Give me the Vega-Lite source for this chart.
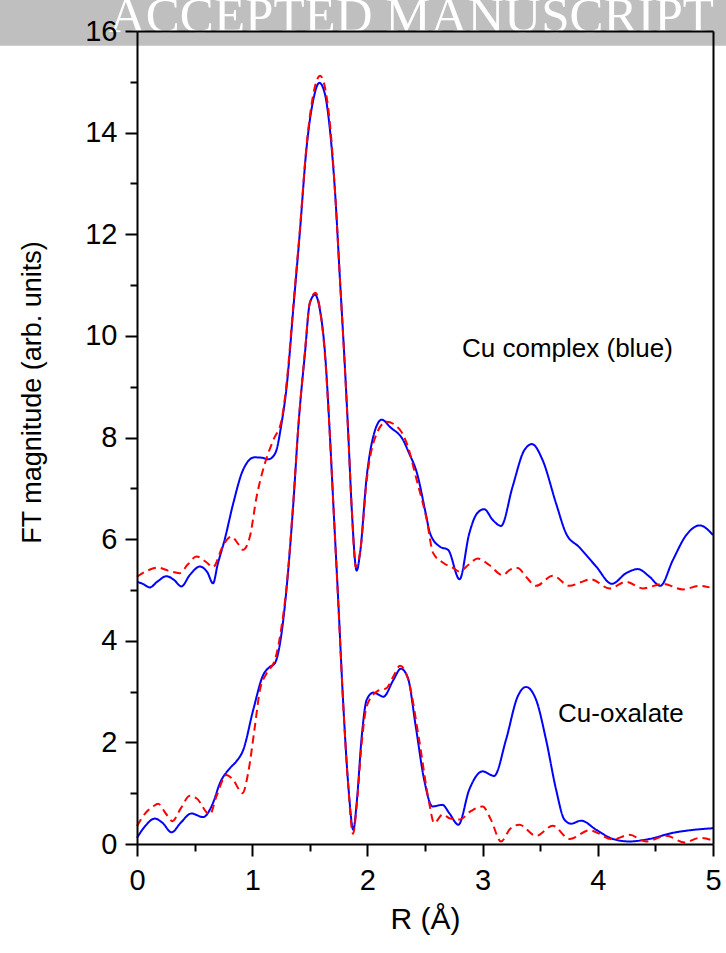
{
  "$schema": "https://vega.github.io/schema/vega-lite/v6.json",
  "width": 576,
  "height": 813,
  "autosize": {"type": "none"},
  "padding": {"left": 137, "top": 31, "right": 13, "bottom": 109},
  "background": "white",
  "config": {"view": {"stroke": null}, "font": "Liberation Sans"},
  "datasets": {
    "curves": [
{"s":"complex","k":"exp","R":0,"v":5.16},{"s":"complex","k":"exp","R":0.05,"v":5.12},{"s":"complex","k":"exp","R":0.11,"v":5.05},{"s":"complex","k":"exp","R":0.18,"v":5.17},{"s":"complex","k":"exp","R":0.255,"v":5.27},{"s":"complex","k":"exp","R":0.32,"v":5.2},{"s":"complex","k":"exp","R":0.385,"v":5.07},{"s":"complex","k":"exp","R":0.46,"v":5.3},{"s":"complex","k":"exp","R":0.545,"v":5.46},{"s":"complex","k":"exp","R":0.61,"v":5.35},{"s":"complex","k":"exp","R":0.66,"v":5.13},{"s":"complex","k":"exp","R":0.7,"v":5.5},{"s":"complex","k":"exp","R":0.76,"v":5.98},{"s":"complex","k":"exp","R":0.835,"v":6.7},{"s":"complex","k":"exp","R":0.92,"v":7.36},{"s":"complex","k":"exp","R":1.02,"v":7.61},{"s":"complex","k":"exp","R":1.09,"v":7.6},{"s":"complex","k":"exp","R":1.14,"v":7.57},{"s":"complex","k":"exp","R":1.2,"v":7.69},{"s":"complex","k":"exp","R":1.255,"v":8.28},{"s":"complex","k":"exp","R":1.3,"v":9.02},{"s":"complex","k":"exp","R":1.357,"v":10.54},{"s":"complex","k":"exp","R":1.414,"v":12.05},{"s":"complex","k":"exp","R":1.47,"v":13.66},{"s":"complex","k":"exp","R":1.53,"v":14.64},{"s":"complex","k":"exp","R":1.583,"v":14.98},{"s":"complex","k":"exp","R":1.63,"v":14.77},{"s":"complex","k":"exp","R":1.675,"v":14.05},{"s":"complex","k":"exp","R":1.72,"v":12.8},{"s":"complex","k":"exp","R":1.762,"v":11.1},{"s":"complex","k":"exp","R":1.806,"v":9.33},{"s":"complex","k":"exp","R":1.835,"v":8.02},{"s":"complex","k":"exp","R":1.864,"v":6.6},{"s":"complex","k":"exp","R":1.907,"v":5.38},{"s":"complex","k":"exp","R":1.936,"v":5.72},{"s":"complex","k":"exp","R":1.994,"v":7.23},{"s":"complex","k":"exp","R":2.05,"v":8.01},{"s":"complex","k":"exp","R":2.124,"v":8.35},{"s":"complex","k":"exp","R":2.2,"v":8.2},{"s":"complex","k":"exp","R":2.31,"v":7.95},{"s":"complex","k":"exp","R":2.36,"v":7.7},{"s":"complex","k":"exp","R":2.43,"v":7.3},{"s":"complex","k":"exp","R":2.507,"v":6.5},{"s":"complex","k":"exp","R":2.543,"v":6.12},{"s":"complex","k":"exp","R":2.63,"v":5.85},{"s":"complex","k":"exp","R":2.7,"v":5.79},{"s":"complex","k":"exp","R":2.8,"v":5.21},{"s":"complex","k":"exp","R":2.884,"v":6.11},{"s":"complex","k":"exp","R":2.95,"v":6.5},{"s":"complex","k":"exp","R":3.014,"v":6.59},{"s":"complex","k":"exp","R":3.087,"v":6.38},{"s":"complex","k":"exp","R":3.16,"v":6.26},{"s":"complex","k":"exp","R":3.26,"v":7.03},{"s":"complex","k":"exp","R":3.362,"v":7.75},{"s":"complex","k":"exp","R":3.429,"v":7.87},{"s":"complex","k":"exp","R":3.52,"v":7.56},{"s":"complex","k":"exp","R":3.638,"v":6.7},{"s":"complex","k":"exp","R":3.725,"v":6.11},{"s":"complex","k":"exp","R":3.84,"v":5.84},{"s":"complex","k":"exp","R":3.986,"v":5.46},{"s":"complex","k":"exp","R":4.122,"v":5.12},{"s":"complex","k":"exp","R":4.246,"v":5.33},{"s":"complex","k":"exp","R":4.348,"v":5.41},{"s":"complex","k":"exp","R":4.449,"v":5.26},{"s":"complex","k":"exp","R":4.542,"v":5.08},{"s":"complex","k":"exp","R":4.652,"v":5.59},{"s":"complex","k":"exp","R":4.768,"v":6.08},{"s":"complex","k":"exp","R":4.884,"v":6.27},{"s":"complex","k":"exp","R":5.0,"v":6.08},
{"s":"oxalate","k":"exp","R":0,"v":0.12},{"s":"oxalate","k":"exp","R":0.07,"v":0.35},{"s":"oxalate","k":"exp","R":0.154,"v":0.5},{"s":"oxalate","k":"exp","R":0.22,"v":0.42},{"s":"oxalate","k":"exp","R":0.3,"v":0.23},{"s":"oxalate","k":"exp","R":0.38,"v":0.42},{"s":"oxalate","k":"exp","R":0.472,"v":0.6},{"s":"oxalate","k":"exp","R":0.574,"v":0.53},{"s":"oxalate","k":"exp","R":0.66,"v":0.81},{"s":"oxalate","k":"exp","R":0.72,"v":1.2},{"s":"oxalate","k":"exp","R":0.806,"v":1.49},{"s":"oxalate","k":"exp","R":0.864,"v":1.63},{"s":"oxalate","k":"exp","R":0.922,"v":1.85},{"s":"oxalate","k":"exp","R":1.009,"v":2.64},{"s":"oxalate","k":"exp","R":1.096,"v":3.33},{"s":"oxalate","k":"exp","R":1.15,"v":3.48},{"s":"oxalate","k":"exp","R":1.197,"v":3.56},{"s":"oxalate","k":"exp","R":1.255,"v":4.15},{"s":"oxalate","k":"exp","R":1.3,"v":5.07},{"s":"oxalate","k":"exp","R":1.357,"v":6.7},{"s":"oxalate","k":"exp","R":1.4,"v":8.2},{"s":"oxalate","k":"exp","R":1.458,"v":9.66},{"s":"oxalate","k":"exp","R":1.5,"v":10.64},{"s":"oxalate","k":"exp","R":1.545,"v":10.81},{"s":"oxalate","k":"exp","R":1.588,"v":10.51},{"s":"oxalate","k":"exp","R":1.632,"v":9.66},{"s":"oxalate","k":"exp","R":1.675,"v":8.02},{"s":"oxalate","k":"exp","R":1.704,"v":6.7},{"s":"oxalate","k":"exp","R":1.748,"v":4.74},{"s":"oxalate","k":"exp","R":1.79,"v":2.77},{"s":"oxalate","k":"exp","R":1.835,"v":1.13},{"s":"oxalate","k":"exp","R":1.878,"v":0.28},{"s":"oxalate","k":"exp","R":1.907,"v":0.81},{"s":"oxalate","k":"exp","R":1.951,"v":2.12},{"s":"oxalate","k":"exp","R":1.994,"v":2.84},{"s":"oxalate","k":"exp","R":2.052,"v":2.98},{"s":"oxalate","k":"exp","R":2.139,"v":2.9},{"s":"oxalate","k":"exp","R":2.226,"v":3.23},{"s":"oxalate","k":"exp","R":2.29,"v":3.45},{"s":"oxalate","k":"exp","R":2.35,"v":3.28},{"s":"oxalate","k":"exp","R":2.42,"v":2.31},{"s":"oxalate","k":"exp","R":2.493,"v":1.26},{"s":"oxalate","k":"exp","R":2.565,"v":0.74},{"s":"oxalate","k":"exp","R":2.652,"v":0.77},{"s":"oxalate","k":"exp","R":2.71,"v":0.61},{"s":"oxalate","k":"exp","R":2.79,"v":0.38},{"s":"oxalate","k":"exp","R":2.884,"v":1.07},{"s":"oxalate","k":"exp","R":3.0,"v":1.43},{"s":"oxalate","k":"exp","R":3.1,"v":1.34},{"s":"oxalate","k":"exp","R":3.203,"v":2.05},{"s":"oxalate","k":"exp","R":3.304,"v":2.9},{"s":"oxalate","k":"exp","R":3.377,"v":3.09},{"s":"oxalate","k":"exp","R":3.464,"v":2.84},{"s":"oxalate","k":"exp","R":3.551,"v":2.05},{"s":"oxalate","k":"exp","R":3.638,"v":1.07},{"s":"oxalate","k":"exp","R":3.71,"v":0.48},{"s":"oxalate","k":"exp","R":3.768,"v":0.4},{"s":"oxalate","k":"exp","R":3.855,"v":0.46},{"s":"oxalate","k":"exp","R":3.986,"v":0.28},{"s":"oxalate","k":"exp","R":4.13,"v":0.1},{"s":"oxalate","k":"exp","R":4.275,"v":0.05},{"s":"oxalate","k":"exp","R":4.449,"v":0.1},{"s":"oxalate","k":"exp","R":4.652,"v":0.22},{"s":"oxalate","k":"exp","R":4.797,"v":0.27},{"s":"oxalate","k":"exp","R":5.0,"v":0.31},
{"s":"complex","k":"fit","R":0,"v":5.26},{"s":"complex","k":"fit","R":0.09,"v":5.38},{"s":"complex","k":"fit","R":0.18,"v":5.44},{"s":"complex","k":"fit","R":0.27,"v":5.38},{"s":"complex","k":"fit","R":0.37,"v":5.33},{"s":"complex","k":"fit","R":0.44,"v":5.5},{"s":"complex","k":"fit","R":0.516,"v":5.66},{"s":"complex","k":"fit","R":0.6,"v":5.55},{"s":"complex","k":"fit","R":0.66,"v":5.45},{"s":"complex","k":"fit","R":0.748,"v":5.88},{"s":"complex","k":"fit","R":0.82,"v":6.05},{"s":"complex","k":"fit","R":0.88,"v":5.9},{"s":"complex","k":"fit","R":0.92,"v":5.79},{"s":"complex","k":"fit","R":0.98,"v":6.05},{"s":"complex","k":"fit","R":1.038,"v":6.83},{"s":"complex","k":"fit","R":1.11,"v":7.49},{"s":"complex","k":"fit","R":1.183,"v":7.95},{"s":"complex","k":"fit","R":1.255,"v":8.34},{"s":"complex","k":"fit","R":1.3,"v":9.1},{"s":"complex","k":"fit","R":1.357,"v":10.6},{"s":"complex","k":"fit","R":1.414,"v":12.1},{"s":"complex","k":"fit","R":1.47,"v":13.7},{"s":"complex","k":"fit","R":1.53,"v":14.75},{"s":"complex","k":"fit","R":1.59,"v":15.12},{"s":"complex","k":"fit","R":1.635,"v":14.85},{"s":"complex","k":"fit","R":1.68,"v":14.05},{"s":"complex","k":"fit","R":1.72,"v":12.8},{"s":"complex","k":"fit","R":1.762,"v":11.1},{"s":"complex","k":"fit","R":1.806,"v":9.3},{"s":"complex","k":"fit","R":1.835,"v":8.0},{"s":"complex","k":"fit","R":1.864,"v":6.6},{"s":"complex","k":"fit","R":1.9,"v":5.45},{"s":"complex","k":"fit","R":1.94,"v":5.8},{"s":"complex","k":"fit","R":1.994,"v":7.16},{"s":"complex","k":"fit","R":2.06,"v":7.95},{"s":"complex","k":"fit","R":2.167,"v":8.31},{"s":"complex","k":"fit","R":2.283,"v":8.15},{"s":"complex","k":"fit","R":2.352,"v":7.82},{"s":"complex","k":"fit","R":2.42,"v":7.23},{"s":"complex","k":"fit","R":2.515,"v":6.38},{"s":"complex","k":"fit","R":2.57,"v":5.73},{"s":"complex","k":"fit","R":2.66,"v":5.53},{"s":"complex","k":"fit","R":2.745,"v":5.43},{"s":"complex","k":"fit","R":2.797,"v":5.36},{"s":"complex","k":"fit","R":2.88,"v":5.5},{"s":"complex","k":"fit","R":2.957,"v":5.62},{"s":"complex","k":"fit","R":3.058,"v":5.49},{"s":"complex","k":"fit","R":3.174,"v":5.29},{"s":"complex","k":"fit","R":3.24,"v":5.4},{"s":"complex","k":"fit","R":3.304,"v":5.43},{"s":"complex","k":"fit","R":3.38,"v":5.25},{"s":"complex","k":"fit","R":3.464,"v":5.08},{"s":"complex","k":"fit","R":3.609,"v":5.28},{"s":"complex","k":"fit","R":3.754,"v":5.08},{"s":"complex","k":"fit","R":3.85,"v":5.15},{"s":"complex","k":"fit","R":3.942,"v":5.21},{"s":"complex","k":"fit","R":4.101,"v":5.03},{"s":"complex","k":"fit","R":4.246,"v":5.16},{"s":"complex","k":"fit","R":4.391,"v":5.03},{"s":"complex","k":"fit","R":4.565,"v":5.12},{"s":"complex","k":"fit","R":4.739,"v":5.01},{"s":"complex","k":"fit","R":4.884,"v":5.08},{"s":"complex","k":"fit","R":4.97,"v":5.05},
{"s":"oxalate","k":"fit","R":0,"v":0.35},{"s":"oxalate","k":"fit","R":0.07,"v":0.6},{"s":"oxalate","k":"fit","R":0.14,"v":0.74},{"s":"oxalate","k":"fit","R":0.183,"v":0.79},{"s":"oxalate","k":"fit","R":0.25,"v":0.6},{"s":"oxalate","k":"fit","R":0.307,"v":0.45},{"s":"oxalate","k":"fit","R":0.38,"v":0.7},{"s":"oxalate","k":"fit","R":0.458,"v":0.95},{"s":"oxalate","k":"fit","R":0.516,"v":0.9},{"s":"oxalate","k":"fit","R":0.632,"v":0.58},{"s":"oxalate","k":"fit","R":0.69,"v":0.94},{"s":"oxalate","k":"fit","R":0.777,"v":1.36},{"s":"oxalate","k":"fit","R":0.835,"v":1.26},{"s":"oxalate","k":"fit","R":0.916,"v":1.0},{"s":"oxalate","k":"fit","R":0.965,"v":1.4},{"s":"oxalate","k":"fit","R":1.023,"v":2.31},{"s":"oxalate","k":"fit","R":1.067,"v":3.03},{"s":"oxalate","k":"fit","R":1.125,"v":3.36},{"s":"oxalate","k":"fit","R":1.197,"v":3.62},{"s":"oxalate","k":"fit","R":1.255,"v":4.28},{"s":"oxalate","k":"fit","R":1.3,"v":5.1},{"s":"oxalate","k":"fit","R":1.357,"v":6.75},{"s":"oxalate","k":"fit","R":1.4,"v":8.2},{"s":"oxalate","k":"fit","R":1.458,"v":9.7},{"s":"oxalate","k":"fit","R":1.5,"v":10.65},{"s":"oxalate","k":"fit","R":1.55,"v":10.85},{"s":"oxalate","k":"fit","R":1.59,"v":10.5},{"s":"oxalate","k":"fit","R":1.632,"v":9.6},{"s":"oxalate","k":"fit","R":1.675,"v":8.0},{"s":"oxalate","k":"fit","R":1.704,"v":6.7},{"s":"oxalate","k":"fit","R":1.748,"v":4.7},{"s":"oxalate","k":"fit","R":1.79,"v":2.75},{"s":"oxalate","k":"fit","R":1.835,"v":1.1},{"s":"oxalate","k":"fit","R":1.875,"v":0.2},{"s":"oxalate","k":"fit","R":1.907,"v":0.75},{"s":"oxalate","k":"fit","R":1.951,"v":2.0},{"s":"oxalate","k":"fit","R":1.994,"v":2.71},{"s":"oxalate","k":"fit","R":2.081,"v":3.0},{"s":"oxalate","k":"fit","R":2.168,"v":3.07},{"s":"oxalate","k":"fit","R":2.226,"v":3.3},{"s":"oxalate","k":"fit","R":2.284,"v":3.51},{"s":"oxalate","k":"fit","R":2.362,"v":3.17},{"s":"oxalate","k":"fit","R":2.449,"v":2.05},{"s":"oxalate","k":"fit","R":2.536,"v":0.81},{"s":"oxalate","k":"fit","R":2.58,"v":0.41},{"s":"oxalate","k":"fit","R":2.652,"v":0.58},{"s":"oxalate","k":"fit","R":2.72,"v":0.5},{"s":"oxalate","k":"fit","R":2.797,"v":0.48},{"s":"oxalate","k":"fit","R":2.9,"v":0.65},{"s":"oxalate","k":"fit","R":3.0,"v":0.74},{"s":"oxalate","k":"fit","R":3.072,"v":0.48},{"s":"oxalate","k":"fit","R":3.16,"v":0.05},{"s":"oxalate","k":"fit","R":3.24,"v":0.3},{"s":"oxalate","k":"fit","R":3.319,"v":0.38},{"s":"oxalate","k":"fit","R":3.464,"v":0.16},{"s":"oxalate","k":"fit","R":3.609,"v":0.36},{"s":"oxalate","k":"fit","R":3.754,"v":0.1},{"s":"oxalate","k":"fit","R":3.928,"v":0.27},{"s":"oxalate","k":"fit","R":4.13,"v":0.09},{"s":"oxalate","k":"fit","R":4.275,"v":0.18},{"s":"oxalate","k":"fit","R":4.42,"v":0.05},{"s":"oxalate","k":"fit","R":4.594,"v":0.16},{"s":"oxalate","k":"fit","R":4.754,"v":0.03},{"s":"oxalate","k":"fit","R":4.884,"v":0.12},{"s":"oxalate","k":"fit","R":5.0,"v":0.07}
    ]
  },
  "layer": [
    {
      "data": {"values": [{"band": "watermark"}]},
      "mark": {"type": "rect", "color": "#bfbfbf"},
      "encoding": {
        "x": {"datum": -1.19, "type": "quantitative", "scale": {"domain": [0, 5], "nice": false, "zero": false}, "axis": null},
        "x2": {"datum": 5.12},
        "y": {"datum": 16.62, "type": "quantitative", "scale": {"domain": [0, 16], "nice": false}, "axis": null},
        "y2": {"datum": 15.71}
      }
    },
    {
      "data": {"values": [{"label": "ACCEPTED MANUSCRIPT", "R": 2.383, "v": 15.99}]},
      "mark": {"type": "text", "font": "Liberation Serif", "fontSize": 51, "color": "white", "align": "center", "baseline": "alphabetic"},
      "encoding": {
        "x": {"field": "R", "type": "quantitative", "axis": null},
        "y": {"field": "v", "type": "quantitative", "axis": null},
        "text": {"field": "label"}
      }
    },
    {
      "data": {"name": "curves"},
      "mark": {"type": "line", "interpolate": "monotone", "strokeWidth": 2},
      "encoding": {
        "x": {
          "field": "R", "type": "quantitative",
          "axis": {"orient": "bottom", "values": [0, 1, 2, 3, 4, 5], "tickSize": 12, "tickWidth": 2, "tickColor": "black", "domainWidth": 2, "domainColor": "black", "grid": false, "labelFontSize": 29, "labelColor": "black", "labelPadding": 10, "labelFlush": false, "labelFont": "Liberation Sans", "title": "R (Å)", "titleFont": "Liberation Sans", "titleFontSize": 30, "titleFontWeight": "normal", "titleColor": "black", "titleBaseline": "alphabetic", "titleY": 84, "zindex": 1}
        },
        "y": {
          "field": "v", "type": "quantitative",
          "axis": {"orient": "left", "values": [0, 2, 4, 6, 8, 10, 12, 14, 16], "tickSize": 12, "tickWidth": 2, "tickColor": "black", "domainWidth": 2, "domainColor": "black", "grid": false, "labelFontSize": 29, "labelColor": "black", "labelPadding": 8, "labelFlush": false, "labelFont": "Liberation Sans", "title": "FT magnitude (arb. units)", "titleFont": "Liberation Sans", "titleFontSize": 27, "titleFontWeight": "normal", "titleColor": "black", "titleAngle": 270, "titleBaseline": "middle", "titleX": -105, "titleY": 361, "zindex": 1}
        },
        "color": {"field": "k", "type": "nominal", "scale": {"domain": ["exp", "fit"], "range": ["#0000ff", "#ff0000"]}, "legend": null},
        "strokeDash": {"field": "k", "type": "nominal", "scale": {"domain": ["exp", "fit"], "range": [[1, 0], [8, 5]]}, "legend": null},
        "detail": {"field": "s", "type": "nominal"}
      }
    },
    {
      "data": {"values": [{"label": "Cu complex (blue)", "R": 2.821, "v": 9.59}]},
      "mark": {"type": "text", "fontSize": 26, "font": "Liberation Sans", "color": "black", "align": "left", "baseline": "alphabetic"},
      "encoding": {
        "x": {"field": "R", "type": "quantitative", "axis": {"orient": "bottom", "values": [0.5, 1.5, 2.5, 3.5, 4.5], "tickSize": 7, "tickWidth": 2, "tickColor": "black", "domain": false, "labels": false, "grid": false, "title": null, "zindex": 1}},
        "y": {"field": "v", "type": "quantitative", "axis": {"orient": "left", "values": [1, 3, 5, 7, 9, 11, 13, 15], "tickSize": 7, "tickWidth": 2, "tickColor": "black", "domain": false, "labels": false, "grid": false, "title": null, "zindex": 1}},
        "text": {"field": "label"}
      }
    },
    {
      "data": {"values": [{"label": "Cu-oxalate", "R": 3.655, "v": 2.4}]},
      "mark": {"type": "text", "fontSize": 26, "font": "Liberation Sans", "color": "black", "align": "left", "baseline": "alphabetic"},
      "encoding": {
        "x": {"field": "R", "type": "quantitative", "axis": {"orient": "top", "ticks": false, "labels": false, "domain": true, "domainWidth": 2, "domainColor": "black", "grid": false, "title": null, "zindex": 1}},
        "y": {"field": "v", "type": "quantitative", "axis": {"orient": "right", "ticks": false, "labels": false, "domain": true, "domainWidth": 2, "domainColor": "black", "grid": false, "title": null, "zindex": 1}},
        "text": {"field": "label"}
      }
    }
  ],
  "resolve": {"axis": {"x": "independent", "y": "independent"}}
}
